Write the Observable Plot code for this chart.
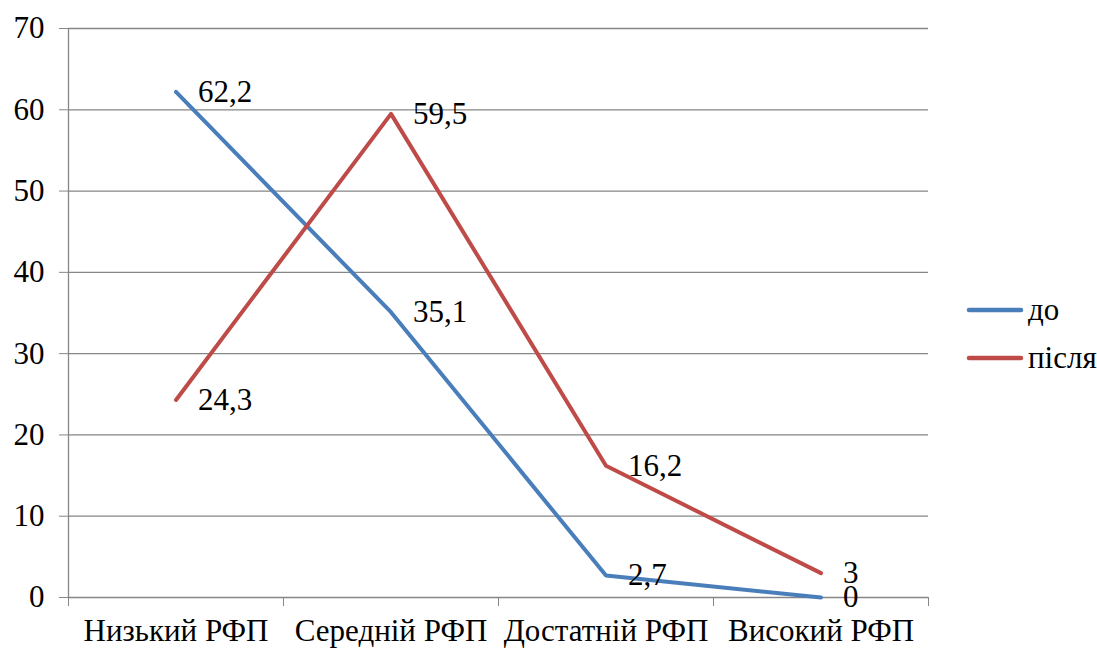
<!DOCTYPE html>
<html>
<head>
<meta charset="utf-8">
<script src="https://cdn.jsdelivr.net/npm/d3@7"></script>
<script src="https://cdn.jsdelivr.net/npm/@observablehq/plot@0.6"></script>
<style>
  html, body { margin: 0; background: #fff; }
  #chart, #chart * { font-family: "Times New Roman", "Liberation Serif", Tinos, serif !important; }
</style>
</head>
<body>
<div id="chart" style="position:relative;width:1097px;height:650px">
  <div id="legend" style="position:absolute;left:966px;top:286px;font-size:31px;color:#000">
    <div style="display:flex;align-items:center;height:48px"><svg width="58" height="10" style="margin-right:4px"><line x1="3" y1="5" x2="55" y2="5" stroke="#4A7EBB" stroke-width="4.5" stroke-linecap="round"/></svg><span>до</span></div>
    <div style="display:flex;align-items:center;height:48px"><svg width="58" height="10" style="margin-right:4px"><line x1="3" y1="5" x2="55" y2="5" stroke="#BE4B48" stroke-width="4.5" stroke-linecap="round"/></svg><span>після</span></div>
  </div>
</div>
<script>
// Рівні розвитку (РФП) і відсотки до та після
const categories = ["Низький РФП", "Середній РФП", "Достатній РФП", "Високий РФП"];
const before = [62.2, 35.1, 2.7, 0];
const after = [24.3, 59.5, 16.2, 3];
const yTicks = [0, 10, 20, 30, 40, 50, 60, 70];
const seriesNames = ["до", "після"];
const seriesColors = ["#4A7EBB", "#BE4B48"];

const rows = [];
categories.forEach((c, i) => {
  rows.push({series: seriesNames[0], i: i + 0.5, value: before[i]});
  rows.push({series: seriesNames[1], i: i + 0.5, value: after[i]});
});
const fmt = v => String(v).replace(".", ",");
const fontSize = 31;
const serif = "Times New Roman, Liberation Serif, serif";

const plot = Plot.plot({
  width: 1097,
  height: 650,
  marginLeft: 68,
  marginRight: 169,
  marginTop: 28,
  marginBottom: 53,
  style: {fontFamily: serif, fontSize: fontSize + "px"},
  x: {type: "linear", domain: [0, categories.length], label: null},
  y: {domain: [0, 70], label: null},
  color: {domain: seriesNames, range: seriesColors},
  marks: [
    Plot.ruleY(yTicks, {stroke: "#868686", strokeWidth: 1.3, strokeOpacity: 1}),
    Plot.ruleX([0], {y1: 0, y2: 70, stroke: "#868686", strokeWidth: 1.3}),
    Plot.axisY({ticks: yTicks, tickSize: 9, tickPadding: 15, label: null, stroke: "#868686", strokeOpacity: 1, fontSize: fontSize, fontFamily: serif, fill: "#000"}),
    Plot.axisX({ticks: d3.range(0, categories.length + 1), tickSize: 9, label: null, tickFormat: () => "", stroke: "#868686", strokeOpacity: 1}),
    Plot.axisX({ticks: categories.map((c, i) => i + 0.5), tickSize: 0, tickPadding: 21, label: null, tickFormat: d => categories[Math.round(d - 0.5)], fontSize: fontSize, fontFamily: serif, fill: "#000"}),
    Plot.line(rows, {x: "i", y: "value", z: "series", stroke: "series", strokeWidth: 4, strokeLinejoin: "round", strokeLinecap: "round"}),
    Plot.text(rows, {x: "i", y: "value", text: d => fmt(d.value), textAnchor: "start", dx: 22, fill: "#000", fontSize: fontSize, fontFamily: serif})
  ]
});

document.getElementById("chart").prepend(plot);
</script>
</body>
</html>
